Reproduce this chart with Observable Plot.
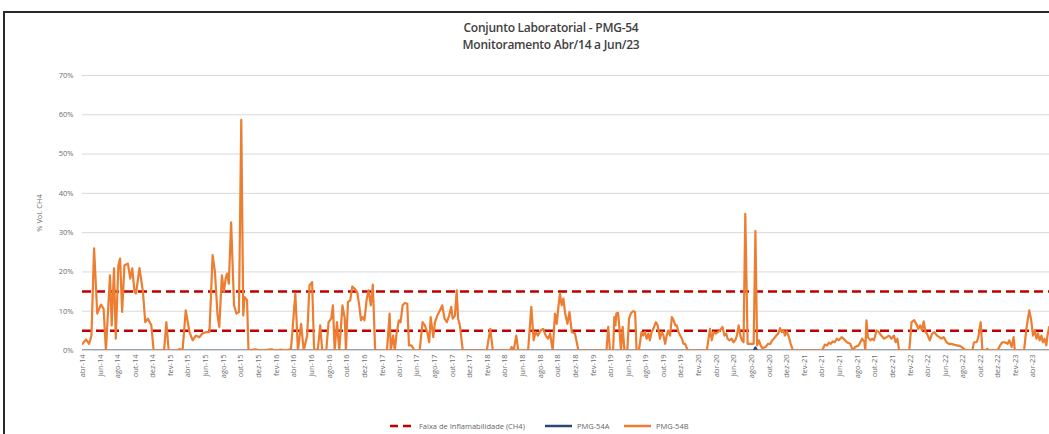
<!DOCTYPE html>
<html>
<head>
<meta charset="utf-8">
<script src="https://cdn.jsdelivr.net/npm/d3@7"></script>
<script src="https://cdn.jsdelivr.net/npm/@observablehq/plot@0.6"></script>
<style>
  html, body { margin: 0; padding: 0; background: #fff; overflow: hidden; width: 1049px; height: 434px; }
  body { position: relative; font-family: "Open Sans", sans-serif; }
  #frame { position: absolute; left: 3px; top: 11px; width: 1200px; height: 600px; border-left: 2px solid #2a2a2a; border-top: 2px solid #2a2a2a; }
  #chart { position: absolute; left: 0; top: 0; }
  .title { position: absolute; left: 351px; width: 400px; text-align: center; font-size: 12px; font-weight: 600; letter-spacing: -0.25px; color: #404040; }
  #legend { position: absolute; top: 419px; left: 0; width: 1049px; height: 14px; font-size: 7.5px; color: #666; }
  .li { position: absolute; top: 0; display: flex; align-items: center; height: 14px; white-space: nowrap; }
  .li svg { margin-right: 5px; }
</style>
</head>
<body>
<div id="frame"></div>
<div id="chart"></div>
<div class="title" id="t1" style="top:19px"></div>
<div class="title" id="t2" style="top:36px"></div>
<div id="legend"></div>
<script>
// ---- Data ----
const titleLines = ["Conjunto Laboratorial - PMG-54", "Monitoramento Abr/14 a Jun/23"];
const yLabel = "% Vol. CH4";
const seriesNames = ["Faixa de Inflamabilidade (CH4)", "PMG-54A", "PMG-54B"];
const seriesColors = ["#C00000", "#2E4677", "#ED7D31"];
const flammabilityLimits = [5, 15];
const yTicks = [0, 10, 20, 30, 40, 50, 60, 70];
const monthsPT = ["jan","fev","mar","abr","mai","jun","jul","ago","set","out","nov","dez"];
const xStart = "2014-04-01";
const xEnd = "2023-05-28";

const datesA = ["2014-04-01","2020-08-08","2020-08-14","2020-08-20","2023-05-28"];
const valuesA = [0, 0, 0.8, 0, 0];

const datesB = [
"2014-04-01","2014-04-13","2014-04-24","2014-05-02","2014-05-11","2014-05-22","2014-06-04","2014-06-13","2014-06-21","2014-07-05",
"2014-07-11","2014-07-19","2014-07-25","2014-08-03","2014-08-09","2014-08-16","2014-08-24","2014-09-05","2014-09-13","2014-09-20",
"2014-09-28","2014-10-03","2014-10-15","2014-10-27","2014-11-04","2014-11-13","2014-11-25","2014-12-03","2014-12-23","2015-01-08",
"2015-01-16","2015-01-24","2015-02-25","2015-03-02","2015-03-13","2015-03-24","2015-04-06","2015-04-17","2015-04-28","2015-05-10",
"2015-05-21","2015-06-03","2015-06-14","2015-06-25","2015-07-03","2015-07-12","2015-07-18","2015-07-27","2015-08-03","2015-08-09",
"2015-08-14","2015-08-20","2015-08-28","2015-09-07","2015-09-15","2015-09-24","2015-10-02","2015-10-09","2015-10-13","2015-10-22",
"2015-10-27","2015-11-20","2015-12-05","2016-01-15","2016-01-25","2016-02-20","2016-03-05","2016-03-22","2016-04-06","2016-04-15",
"2016-04-26","2016-05-05","2016-05-17","2016-05-25","2016-06-03","2016-06-10","2016-06-23","2016-07-01","2016-07-08","2016-07-22",
"2016-07-30","2016-08-08","2016-08-14","2016-08-20","2016-08-28","2016-09-05","2016-09-16","2016-09-24","2016-09-28","2016-10-05",
"2016-10-13","2016-10-20","2016-10-28","2016-11-06","2016-11-13","2016-11-19","2016-11-25","2016-12-01","2016-12-09","2016-12-15",
"2016-12-23","2016-12-30","2017-01-07","2017-02-17","2017-02-26","2017-03-02","2017-03-10","2017-03-16","2017-03-22","2017-03-30",
"2017-04-05","2017-04-12","2017-04-20","2017-04-28","2017-05-04","2017-05-12","2017-05-24","2017-06-10","2017-06-20","2017-06-28",
"2017-07-06","2017-07-13","2017-07-18","2017-07-27","2017-08-02","2017-08-10","2017-08-19","2017-08-27","2017-09-04","2017-09-12",
"2017-09-20","2017-09-27","2017-10-02","2017-10-10","2017-10-16","2017-10-21","2017-10-27","2017-11-06","2018-01-28","2018-02-09",
"2018-02-18","2018-04-18","2018-04-24","2018-05-01","2018-05-10","2018-05-17","2018-06-20","2018-07-01","2018-07-09","2018-07-16",
"2018-07-24","2018-08-02","2018-08-11","2018-08-20","2018-08-28","2018-09-04","2018-09-13","2018-09-21","2018-09-27","2018-10-02",
"2018-10-08","2018-10-14","2018-10-20","2018-10-26","2018-11-03","2018-11-10","2018-11-18","2018-11-29","2018-12-11","2019-03-18",
"2019-03-24","2019-03-30","2019-04-10","2019-04-14","2019-04-18","2019-04-21","2019-04-27","2019-05-01","2019-05-07","2019-05-13",
"2019-05-19","2019-05-29","2019-06-04","2019-06-11","2019-06-19","2019-06-25","2019-06-30","2019-07-08","2019-07-17","2019-07-23",
"2019-07-29","2019-08-04","2019-08-10","2019-08-15","2019-08-21","2019-08-27","2019-09-05","2019-09-11","2019-09-19","2019-09-25",
"2019-10-01","2019-10-07","2019-10-12","2019-10-18","2019-10-24","2019-10-30","2019-11-05","2019-11-11","2019-11-16","2019-11-22",
"2019-11-28","2019-12-04","2019-12-09","2019-12-15","2019-12-24","2020-02-28","2020-03-10","2020-03-16","2020-03-22","2020-03-30",
"2020-04-06","2020-04-14","2020-04-22","2020-04-29","2020-05-05","2020-05-10","2020-05-16","2020-05-24","2020-05-30","2020-06-05",
"2020-06-11","2020-06-17","2020-06-23","2020-06-28","2020-07-04","2020-07-10","2020-07-18","2020-07-27","2020-08-08","2020-08-14",
"2020-08-20","2020-08-26","2020-09-01","2020-09-07","2020-09-18","2020-09-27","2020-10-05","2020-10-11","2020-10-17","2020-10-25",
"2020-11-01","2020-11-07","2020-11-13","2020-11-19","2020-11-24","2020-11-30","2020-12-06","2020-12-14","2020-12-22","2021-04-02",
"2021-04-11","2021-04-19","2021-04-25","2021-05-02","2021-05-08","2021-05-15","2021-05-23","2021-05-29","2021-06-08","2021-06-15",
"2021-06-26","2021-07-08","2021-07-17","2021-07-25","2021-08-06","2021-08-18","2021-08-26","2021-08-29","2021-09-02","2021-09-07",
"2021-09-16","2021-09-22","2021-09-28","2021-10-07","2021-10-15","2021-10-23","2021-11-02","2021-11-11","2021-11-19","2021-11-27",
"2021-12-06","2021-12-12","2021-12-18","2021-12-24","2022-01-28","2022-02-05","2022-02-14","2022-02-24","2022-02-28","2022-03-07",
"2022-03-13","2022-03-19","2022-03-25","2022-03-30","2022-04-09","2022-04-17","2022-04-25","2022-05-04","2022-05-12","2022-05-19",
"2022-05-27","2022-06-06","2022-06-14","2022-06-22","2022-07-01","2022-07-12","2022-07-24","2022-08-05","2022-08-14","2022-09-03",
"2022-09-09","2022-09-18","2022-09-24","2022-10-02","2022-10-08","2022-10-19","2022-10-25","2022-10-31","2022-11-29","2022-12-08",
"2022-12-16","2022-12-24","2023-01-03","2023-01-09","2023-01-17","2023-01-24","2023-01-28","2023-03-01","2023-03-09","2023-03-19",
"2023-03-25","2023-04-01","2023-04-07","2023-04-13","2023-04-18","2023-04-24","2023-04-30","2023-05-05","2023-05-11","2023-05-17",
"2023-05-21","2023-05-27"
];
const valuesB = [
1.7,2.8,1.7,3.8,26,9.4,11.7,10.6,0,19.1,
6.4,20.9,3,21.7,23.4,9.8,21.7,22.1,18.3,20.9,
14.9,14.5,21,14.9,7.2,8.1,6.4,0,0,0,
7.2,0,0,0.4,0,10.2,4.7,2.6,3.8,3.4,
4.3,4.7,4.7,24.3,20,8.9,6,19.1,14.9,18.3,
19.6,17,32.6,11.5,9.4,9.8,58.7,8.9,13.6,12.8,
0,0.3,0,0.3,0,0.2,0,0.4,14.5,0,
6.8,0,3.8,16.6,17.4,0,0.4,6.4,0,0,
7.2,8.1,11.5,0,7.2,0,11.5,8.1,0,12.3,
12.8,16.3,15.7,14.9,11.5,7.7,8.5,7.7,13.2,15.3,
11.5,16.8,0,0,9.4,0,3.8,0,4.3,7.7,
7.2,11.5,12.1,11.9,1.3,1.3,0,0,7.2,6.4,
4.7,2.1,8.5,3.4,7.2,8.9,10.2,11.5,8.1,7.2,
8.9,11.1,8.1,8.9,15.3,8.1,6.4,0,0,5.5,
0,0,0.9,0,3.8,0,0,11.1,2.6,4.7,
3.8,5.1,5.5,3.8,3,4.3,0,9.4,6.8,10.6,
14.5,11.5,13.2,9.4,6.8,9.8,4.7,4.3,0,0,
6,0,0,8.5,6.4,9.4,9.6,6.4,0,6,
0,0,8.1,9.6,10,9.8,0,0,4.7,3.8,
4.7,3,4.3,2.6,4.7,5.5,7.2,6.4,3,4.7,
3.8,1.7,3.8,5.1,3.8,8.5,7.7,6.4,6.4,4.7,
3.8,3,1.7,1.7,0,0,5.5,2.6,4.7,4.3,
4.7,5.1,6,3.8,4.3,3,2.6,3,2.1,2.6,
3.8,6.4,3.8,2.6,2.1,34.8,1.7,1.7,1.7,30.4,
1.3,2.6,1.3,0.6,0.9,1.7,1.7,2.6,3,3.8,
4.3,5.7,4.7,5.1,3.8,4.9,3.8,1.7,0,0,
1.5,1.3,2,1.7,2.3,2.1,3,2.6,3.4,3,
2.1,1.7,0,0.9,1.3,3,2.1,0,7.7,3.4,
2.6,3,2.6,5.1,4.7,3.8,3,3.4,3.8,3,
3.8,2.1,3,0,0,7.2,7.7,6.4,5.5,6.4,
5.1,7.4,4.7,4.3,2.6,4.3,4.7,3.8,3.4,3,
3.4,2.1,1.7,1.7,1.5,1.3,1.1,0.4,0,0,
2.1,2.1,3.4,7.2,0,0,0.4,0,0,1.3,
2.1,2.1,1.7,2.6,0.9,3.4,0,0,5.5,10.2,
8.1,3.8,5.1,3,4.3,2.6,3.8,2.1,3,1.3,
3.8,6
];

// ---- Build tables ----
const parse = d3.utcParse("%Y-%m-%d");
const tableA = datesA.map((d, i) => ({date: parse(d), value: valuesA[i]}));
const tableB = datesB.map((d, i) => ({date: parse(d), value: valuesB[i]}));
const x0 = parse(xStart), x1 = parse(xEnd);
const xTicks = d3.utcMonth.range(x0, x1, 2);
const fmtX = d => monthsPT[d.getUTCMonth()] + "-" + String(d.getUTCFullYear()).slice(2);

document.getElementById("t1").textContent = titleLines[0];
document.getElementById("t2").textContent = titleLines[1];

const font = '"Open Sans", sans-serif';

const chart = Plot.plot({
  width: 1049,
  height: 434,
  marginTop: 75,
  marginBottom: 84,
  marginLeft: 82,
  marginRight: 0,
  style: {fontFamily: font, fontSize: "7.5px", color: "#6b6b6b", background: "transparent", overflow: "visible"},
  x: {type: "utc", domain: [x0, x1]},
  y: {domain: [0, 70]},
  marks: [
    Plot.gridY(yTicks, {stroke: "#d9d9d9", strokeOpacity: 1, strokeWidth: 1}),
    Plot.ruleY(flammabilityLimits, {stroke: seriesColors[0], strokeWidth: 2.5, strokeDasharray: "9,5"}),
    Plot.line(tableA, {x: "date", y: "value", stroke: seriesColors[1], strokeWidth: 2, clip: true}),
    Plot.line(tableB, {x: "date", y: "value", stroke: seriesColors[2], strokeWidth: 2.2, curve: "linear", clip: true}),
    Plot.axisX(xTicks, {tickFormat: fmtX, tickRotate: -90, tickSize: 0, tickPadding: 4, label: null, fill: "#6b6b6b"}),
    Plot.axisY(yTicks, {tickFormat: d => d + "%", tickSize: 0, tickPadding: 9, label: yLabel, labelAnchor: "center", labelArrow: "none", labelOffset: 46, fill: "#6b6b6b"})
  ]
});
document.getElementById("chart").appendChild(chart);

// ---- Legend ----
const legend = document.getElementById("legend");
const legendPos = [390, 545, 624];
seriesNames.forEach((name, i) => {
  const item = document.createElement("div");
  item.className = "li";
  item.style.left = legendPos[i] + "px";
  const dash = i === 0 ? 'stroke-dasharray="8,5"' : "";
  const w = i === 0 ? 24 : 27;
  item.innerHTML = `<svg width="${w}" height="4"><line x1="0" y1="2" x2="${w}" y2="2" stroke="${seriesColors[i]}" stroke-width="2.5" ${dash}/></svg><span>${name}</span>`;
  legend.appendChild(item);
});
</script>
</body>
</html>
